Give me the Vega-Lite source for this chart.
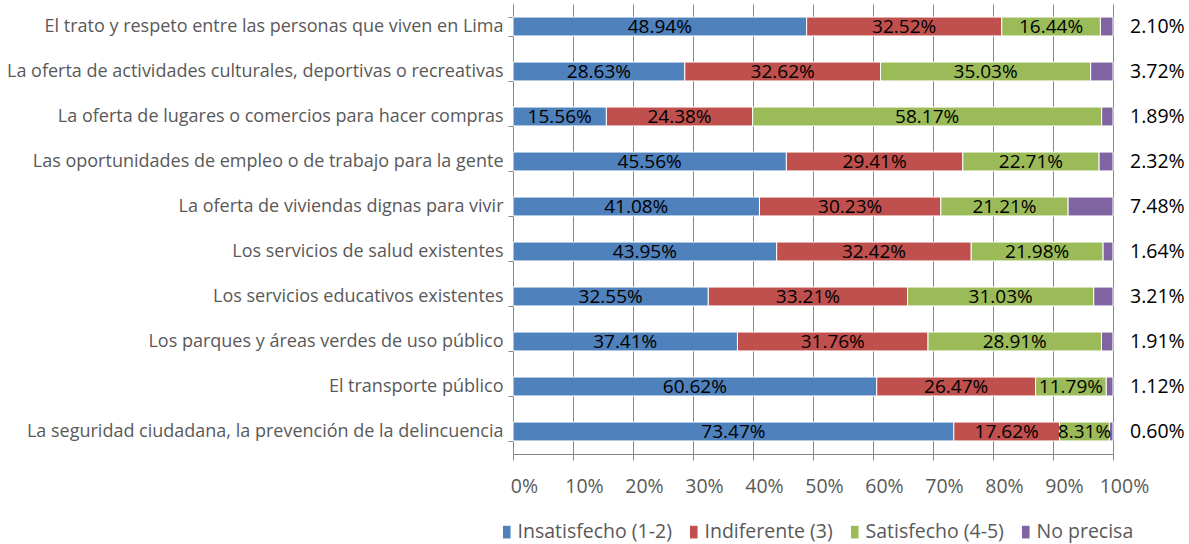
{
  "$schema": "https://vega.github.io/schema/vega-lite/v6.json",
  "autosize": "none",
  "width": 600,
  "height": 450,
  "padding": {"left": 513, "top": 4, "right": 76, "bottom": 90},
  "background": "white",
  "config": {
    "view": {"stroke": null},
    "font": "Open Sans",
    "axis": {"labelFont": "Open Sans", "labelColor": "#595959", "domainColor": "#868686", "tickColor": "#868686", "gridColor": "#868686", "labelFontSize": 19}
  },
  "data": {"values": [
    {"cat": "El trato y respeto entre las personas que viven en Lima", "serie": "Insatisfecho (1-2)", "o": 1, "value": 48.94},
    {"cat": "El trato y respeto entre las personas que viven en Lima", "serie": "Indiferente (3)", "o": 2, "value": 32.52},
    {"cat": "El trato y respeto entre las personas que viven en Lima", "serie": "Satisfecho (4-5)", "o": 3, "value": 16.44},
    {"cat": "El trato y respeto entre las personas que viven en Lima", "serie": "No precisa", "o": 4, "value": 2.10},
    {"cat": "La oferta de actividades culturales, deportivas o recreativas", "serie": "Insatisfecho (1-2)", "o": 1, "value": 28.63},
    {"cat": "La oferta de actividades culturales, deportivas o recreativas", "serie": "Indiferente (3)", "o": 2, "value": 32.62},
    {"cat": "La oferta de actividades culturales, deportivas o recreativas", "serie": "Satisfecho (4-5)", "o": 3, "value": 35.03},
    {"cat": "La oferta de actividades culturales, deportivas o recreativas", "serie": "No precisa", "o": 4, "value": 3.72},
    {"cat": "La oferta de lugares o comercios para hacer compras", "serie": "Insatisfecho (1-2)", "o": 1, "value": 15.56},
    {"cat": "La oferta de lugares o comercios para hacer compras", "serie": "Indiferente (3)", "o": 2, "value": 24.38},
    {"cat": "La oferta de lugares o comercios para hacer compras", "serie": "Satisfecho (4-5)", "o": 3, "value": 58.17},
    {"cat": "La oferta de lugares o comercios para hacer compras", "serie": "No precisa", "o": 4, "value": 1.89},
    {"cat": "Las oportunidades de empleo o de trabajo para la gente", "serie": "Insatisfecho (1-2)", "o": 1, "value": 45.56},
    {"cat": "Las oportunidades de empleo o de trabajo para la gente", "serie": "Indiferente (3)", "o": 2, "value": 29.41},
    {"cat": "Las oportunidades de empleo o de trabajo para la gente", "serie": "Satisfecho (4-5)", "o": 3, "value": 22.71},
    {"cat": "Las oportunidades de empleo o de trabajo para la gente", "serie": "No precisa", "o": 4, "value": 2.32},
    {"cat": "La oferta de viviendas dignas para vivir", "serie": "Insatisfecho (1-2)", "o": 1, "value": 41.08},
    {"cat": "La oferta de viviendas dignas para vivir", "serie": "Indiferente (3)", "o": 2, "value": 30.23},
    {"cat": "La oferta de viviendas dignas para vivir", "serie": "Satisfecho (4-5)", "o": 3, "value": 21.21},
    {"cat": "La oferta de viviendas dignas para vivir", "serie": "No precisa", "o": 4, "value": 7.48},
    {"cat": "Los servicios de salud existentes", "serie": "Insatisfecho (1-2)", "o": 1, "value": 43.95},
    {"cat": "Los servicios de salud existentes", "serie": "Indiferente (3)", "o": 2, "value": 32.42},
    {"cat": "Los servicios de salud existentes", "serie": "Satisfecho (4-5)", "o": 3, "value": 21.98},
    {"cat": "Los servicios de salud existentes", "serie": "No precisa", "o": 4, "value": 1.64},
    {"cat": "Los servicios educativos existentes", "serie": "Insatisfecho (1-2)", "o": 1, "value": 32.55},
    {"cat": "Los servicios educativos existentes", "serie": "Indiferente (3)", "o": 2, "value": 33.21},
    {"cat": "Los servicios educativos existentes", "serie": "Satisfecho (4-5)", "o": 3, "value": 31.03},
    {"cat": "Los servicios educativos existentes", "serie": "No precisa", "o": 4, "value": 3.21},
    {"cat": "Los parques y áreas verdes de uso público", "serie": "Insatisfecho (1-2)", "o": 1, "value": 37.41},
    {"cat": "Los parques y áreas verdes de uso público", "serie": "Indiferente (3)", "o": 2, "value": 31.76},
    {"cat": "Los parques y áreas verdes de uso público", "serie": "Satisfecho (4-5)", "o": 3, "value": 28.91},
    {"cat": "Los parques y áreas verdes de uso público", "serie": "No precisa", "o": 4, "value": 1.91},
    {"cat": "El transporte público", "serie": "Insatisfecho (1-2)", "o": 1, "value": 60.62},
    {"cat": "El transporte público", "serie": "Indiferente (3)", "o": 2, "value": 26.47},
    {"cat": "El transporte público", "serie": "Satisfecho (4-5)", "o": 3, "value": 11.79},
    {"cat": "El transporte público", "serie": "No precisa", "o": 4, "value": 1.12},
    {"cat": "La seguridad ciudadana, la prevención de la delincuencia", "serie": "Insatisfecho (1-2)", "o": 1, "value": 73.47},
    {"cat": "La seguridad ciudadana, la prevención de la delincuencia", "serie": "Indiferente (3)", "o": 2, "value": 17.62},
    {"cat": "La seguridad ciudadana, la prevención de la delincuencia", "serie": "Satisfecho (4-5)", "o": 3, "value": 8.31},
    {"cat": "La seguridad ciudadana, la prevención de la delincuencia", "serie": "No precisa", "o": 4, "value": 0.60}
  ]},
  "transform": [
    {"calculate": "format(datum.value, '.2f') + '%'", "as": "label"}
  ],
  "encoding": {
    "y": {
      "field": "cat", "type": "nominal", "sort": null, "title": null,
      "scale": {"paddingInner": 0.58, "paddingOuter": 0.29},
      "axis": {"tickBand": "extent", "labelPadding": 5, "tickSize": 5, "labelLimit": 600, "labelFontSize": 18}
    }
  },
  "layer": [
    {
      "mark": {"type": "bar", "stroke": "white", "strokeWidth": 1},
      "encoding": {
        "x": {
          "field": "value", "type": "quantitative", "stack": "zero",
          "scale": {"domain": [0, 100]}, "title": null,
          "axis": {"values": [0,10,20,30,40,50,60,70,80,90,100], "labelExpr": "datum.value + '%'", "grid": true, "tickSize": 6, "labelPadding": 17, "labelFlush": false, "labelFontSize": 19.5, "labelOffset": 11}
        },
        "color": {
          "field": "serie", "type": "nominal", "sort": ["Insatisfecho (1-2)", "Indiferente (3)", "Satisfecho (4-5)", "No precisa"],
          "scale": {"domain": ["Insatisfecho (1-2)", "Indiferente (3)", "Satisfecho (4-5)", "No precisa"], "range": ["#4F81BD", "#C0504D", "#9BBB59", "#8064A2"]},
          "legend": {"title": null, "orient": "none", "direction": "horizontal", "legendX": -16, "legendY": 518, "symbolType": "M-0.6,-1H0.6V1H-0.6Z", "symbolSize": 160, "symbolStrokeWidth": 0, "labelFontSize": 19.5, "labelColor": "#595959", "labelFont": "Open Sans", "columnPadding": 12, "labelOffset": 1}
        },
        "order": {"field": "o", "type": "quantitative"}
      }
    },
    {
      "transform": [{"filter": "datum.serie != 'No precisa'"}],
      "mark": {"type": "text", "fontSize": 19, "color": "black", "baseline": "middle", "font": "Open Sans"},
      "encoding": {
        "x": {"field": "value", "type": "quantitative", "stack": "zero", "bandPosition": 0.5},
        "detail": {"field": "serie"},
        "order": {"field": "o", "type": "quantitative"},
        "text": {"field": "label"}
      }
    },
    {
      "transform": [{"filter": "datum.serie == 'No precisa'"}],
      "mark": {"type": "text", "fontSize": 19.5, "color": "black", "align": "left", "dx": 17, "baseline": "middle", "font": "Open Sans"},
      "encoding": {
        "x": {"datum": 100},
        "text": {"field": "label"}
      }
    }
  ]
}
